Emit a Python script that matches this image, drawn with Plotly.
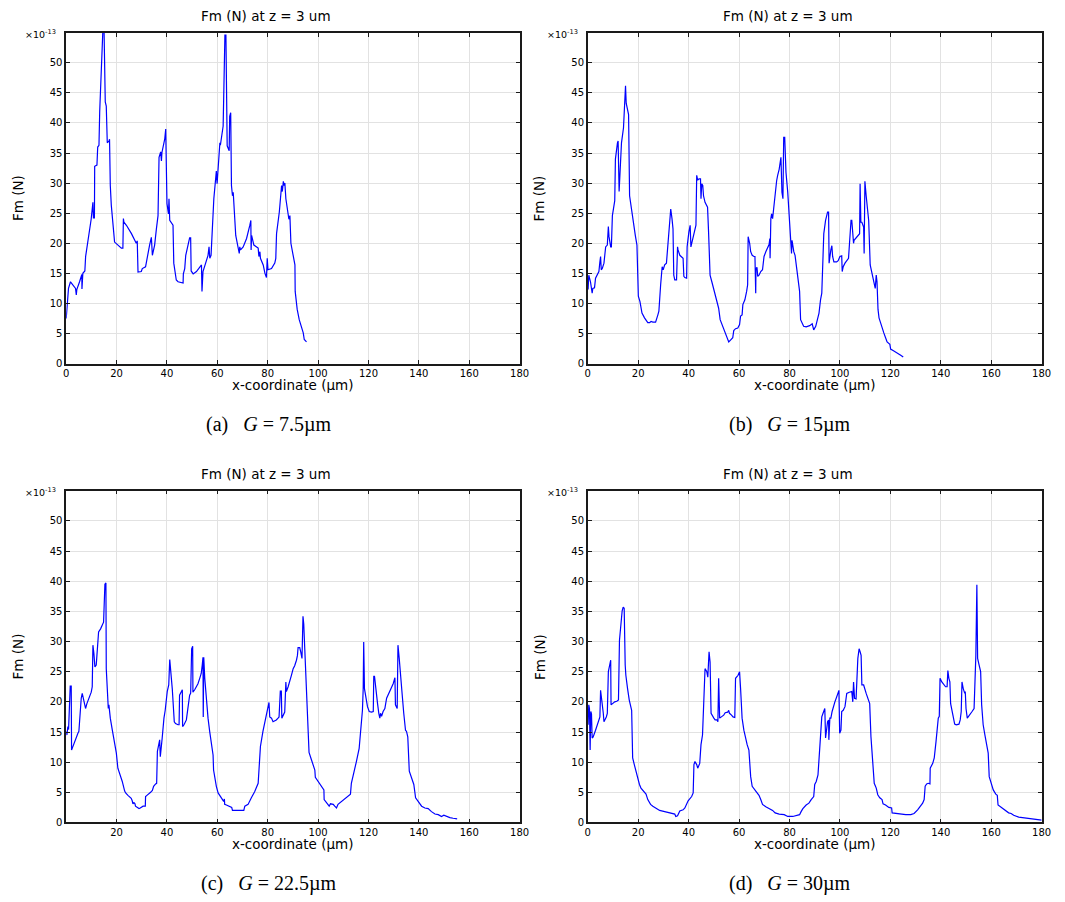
import plotly.graph_objects as go

# Fm values are given in units of 1e-13 N (axis shows "x10^-13")
x_a = [0.0, 0.9, 1.7, 3.7, 4.0, 4.2, 5.3, 6.2, 6.25, 6.6, 7.4, 7.7, 9.9, 10.6, 10.8, 11.2, 11.3, 12.2,
       12.5, 13.0, 13.3, 14.6, 15.0, 15.5, 15.9, 16.3, 17.0, 17.2, 17.5, 17.9, 19.2, 20.5, 21.9, 22.5,
       22.7, 22.9, 23.9, 24.9, 25.9, 27.8, 28.2, 28.5, 29.8, 30.2, 31.5, 33.1, 33.8, 34.2, 35.1, 35.8,
       36.45, 36.85, 37.5, 37.8, 38.0, 39.1, 39.5, 39.8, 40.0, 40.6, 40.8, 41.1, 41.75, 42.4, 42.7,
       43.7, 44.4, 46.4, 46.5, 47.05, 47.45, 49.0, 49.4, 49.6, 50.4, 51.7, 53.7, 53.9, 54.3, 55.1,
       55.7, 56.3, 56.7, 57.0, 57.5, 58.05, 58.6, 59.6, 59.9, 61.0, 61.2, 62.3, 63.0, 63.4, 63.6,
       63.9, 64.7, 64.9, 65.3, 65.6, 66.0, 66.3, 67.3, 68.3, 68.7, 68.9, 69.2, 70.25, 71.6, 72.9,
       73.3, 73.4, 73.6, 74.5, 76.2, 76.5, 76.9, 77.1, 78.2, 78.9, 79.5, 79.8, 80.1, 81.5, 82.8,
       83.2, 83.5, 84.6, 85.1, 85.5, 85.8, 86.2, 86.55, 86.8, 87.2, 88.1, 88.4, 88.8, 89.2, 90.8,
       90.9, 91.7, 92.5, 94.1, 94.5, 95.4]
fm_a = [7.5, 12.5, 13.6, 12.5, 11.4, 12.3, 13.6, 14.8, 12.4, 15.0, 15.4, 17.8, 24.0, 26.8, 24.2, 24.2,
        32.8, 33.0, 36.0, 36.3, 42.0, 56.0, 56.0, 43.5, 42.8, 36.7, 37.0, 37.3, 29.6, 26.3, 20.2,
        19.7, 19.2, 19.2, 24.1, 23.5, 23.0, 22.4, 21.6, 20.0, 20.4, 15.2, 15.3, 15.8, 16.1, 19.7,
        21.0, 18.0, 19.7, 22.4, 24.6, 34.3, 35.2, 33.7, 35.1, 37.3, 39.0, 31.5, 26.6, 24.9, 27.4,
        23.8, 23.3, 23.0, 16.7, 13.9, 13.6, 13.4, 14.9, 15.8, 18.0, 20.9, 20.9, 15.4, 14.9, 15.3,
        16.4, 12.0, 15.3, 16.4, 16.9, 18.0, 19.4, 17.5, 18.0, 21.9, 27.4, 32.0, 29.9, 36.7, 36.3,
        39.5, 54.6, 54.6, 37.8, 36.2, 35.4, 41.1, 41.7, 29.6, 27.9, 28.5, 21.3, 19.4, 18.3, 19.4,
        18.9, 19.4, 20.8, 23.0, 23.8, 18.9, 21.3, 19.7, 19.2, 17.8, 18.6, 17.5, 16.4, 15.0, 14.3,
        17.5, 15.6, 15.8, 16.7, 17.5, 21.6, 25.2, 28.2, 29.6, 28.6, 30.3, 29.6, 30.0, 27.4, 24.6,
        24.0, 24.6, 20.0, 16.4, 12.0, 9.0, 7.3, 5.1, 4.0, 3.6]

x_b = [0.13, 0.4, 1.07, 1.74, 2.0, 2.67, 3.08, 3.74, 4.41, 4.81, 5.08, 5.35, 5.75, 6.42, 7.09, 7.75,
       8.16, 8.42, 8.82, 9.09, 9.36, 9.76, 10.7, 10.96, 11.77, 12.03, 12.43, 12.7, 13.1, 13.37, 14.17,
       14.7, 14.97, 15.24, 15.78, 16.18, 16.58, 17.1, 17.8, 18.45, 18.85, 19.5, 20.05, 20.7, 21.5,
       22.5, 23.8, 24.5, 25.1, 25.8, 26.9, 27.8, 28.2, 28.9, 29.5, 29.9, 30.5, 31.2, 31.4, 31.8,
       32.5, 32.9, 33.4, 33.8, 34.1, 34.5, 35.2, 35.6, 35.8, 36.5, 37.2, 37.8, 38.1, 38.5, 39.2,
       39.4, 40.1, 40.6, 40.9, 41.6, 42.5, 42.9, 43.2, 43.6, 44.1, 44.7, 44.9, 45.2, 45.6, 45.9,
       46.5, 47.5, 47.9, 48.3, 48.5, 49.2, 49.9, 51.2, 51.9, 52.5, 53.2, 54.5, 55.9, 56.6, 57.5,
       57.9, 58.6, 59.5, 60.2, 60.6, 61.2, 61.5, 62.3, 63.0, 63.4, 63.6, 64.2, 64.6, 65.2, 65.9,
       66.3, 66.6, 66.7, 67.1, 67.4, 67.9, 68.6, 69.3, 69.9, 70.6, 71.3, 71.9, 72.2, 72.3, 72.6,
       72.9, 73.3, 73.9, 74.3, 74.9, 75.3, 75.9, 76.6, 77.0, 77.4, 77.7, 78.1, 78.6, 79.3, 80.0,
       80.4, 80.8, 81.0, 81.3, 81.7, 82.2, 82.6, 83.3, 84.0, 84.4, 85.0, 85.6, 86.6, 88.0, 89.0,
       89.6, 90.4, 91.0, 91.7, 92.3, 92.8, 93.6, 94.3, 95.1, 95.5, 95.7, 96.0, 96.4, 96.8, 97.1,
       97.6, 98.7, 99.3, 100.0, 100.7, 100.9, 101.3, 102.0, 103.4, 104.0, 104.4, 104.7, 105.0,
       105.4, 105.6, 106.7, 107.8, 108.0, 108.3, 108.7, 109.4, 109.6, 109.9, 110.4, 111.4, 112.0,
       112.7, 113.4, 114.0, 114.4, 114.7, 115.1, 115.5, 116.1, 116.7, 117.4, 118.1, 118.7, 119.8,
       120.1, 121.4, 122.7, 124.1, 125.1]
fm_b = [12.3, 14.7, 13.6, 11.7, 12.5, 12.6, 14.2, 14.7, 15.3, 16.9, 17.8, 15.6, 15.8, 16.7, 19.4,
        19.7, 22.8, 21.1, 20.0, 19.4, 19.4, 24.6, 27.1, 34.0, 36.7, 37.0, 28.6, 32.0, 34.3, 36.7,
        39.2, 46.2, 46.2, 43.3, 42.0, 41.4, 27.9, 26.3, 24.1, 21.9, 21.3, 19.7, 11.2, 10.3, 8.4,
        7.6, 6.8, 6.8, 7.0, 6.9, 6.9, 8.1, 8.7, 13.1, 16.1, 15.6, 16.4, 16.7, 17.8, 19.4, 22.4,
        25.7, 24.1, 22.4, 14.7, 13.9, 13.9, 19.4, 18.9, 18.0, 17.8, 17.5, 14.5, 14.3, 14.2, 19.4,
        21.9, 23.0, 19.4, 20.5, 22.2, 23.0, 31.3, 30.5, 30.7, 30.7, 27.4, 29.9, 29.6, 27.9, 26.8,
        26.0, 21.9, 18.6, 14.7, 13.6, 12.5, 10.6, 9.2, 7.3, 6.5, 5.1, 3.6, 3.9, 4.3, 5.5, 5.8,
        5.9, 6.5, 7.9, 8.1, 9.8, 10.6, 12.0, 13.1, 21.1, 20.0, 18.6, 18.0, 17.8, 17.8, 11.7, 15.8,
        16.0, 14.5, 14.7, 15.3, 15.6, 17.8, 18.6, 19.4, 19.8, 20.8, 17.5, 24.1, 24.9, 24.1, 26.8,
        28.5, 30.4, 31.3, 32.3, 34.3, 28.5, 27.4, 37.6, 37.6, 31.8, 28.5, 23.5, 20.0, 18.3, 20.5,
        19.4, 18.6, 18.0, 16.7, 14.5, 12.0, 7.3, 6.8, 6.2, 6.1, 6.3, 6.6, 5.6, 6.2, 7.3, 8.4,
        10.6, 11.7, 21.6, 23.8, 25.2, 25.2, 16.7, 17.8, 18.9, 19.6, 17.8, 16.9, 16.9, 17.1, 17.8,
        17.9, 15.3, 16.1, 16.7, 17.5, 21.3, 23.8, 23.8, 21.9, 20.0, 20.5, 21.1, 21.6, 29.9, 23.5,
        23.5, 22.7, 18.3, 30.3, 27.9, 23.8, 16.4, 15.0, 13.9, 12.5, 14.7, 13.6, 9.0, 7.6, 6.8,
        5.9, 5.1, 4.3, 3.6, 3.2, 2.4, 2.1, 1.8, 1.4, 1.1]

x_c = [0.0, 0.26, 0.66, 0.93, 1.59, 1.99, 2.12, 2.65, 3.71, 4.64, 5.03, 5.56, 5.96, 6.36, 6.75, 7.28,
       7.68, 8.21, 9.0, 9.93, 10.33, 10.6, 10.99, 11.39, 11.92, 12.32, 12.85, 13.64, 14.3, 14.83,
       15.36, 15.76, 15.9, 16.3, 16.7, 16.95, 17.5, 18.3, 19.2, 19.9, 20.5, 21.5, 22.25, 23.2, 23.6,
       24.5, 25.8, 26.2, 26.5, 26.9, 27.3, 27.5, 28.1, 28.9, 29.4, 30.5, 31.4, 31.5, 32.05, 32.85,
       33.5, 34.2, 34.7, 35.5, 35.9, 36.2, 36.7, 37.1, 37.35, 37.6, 38.1, 38.8, 39.3, 40.1, 40.7,
       41.1, 41.5, 42.1, 42.9, 43.4, 44.4, 44.8, 45.0, 45.7, 46.1, 46.2, 46.75, 47.7, 48.3, 49.0,
       49.4, 49.8, 50.2, 50.3, 51.0, 51.65, 52.3, 53.0, 53.6, 54.0, 54.3, 54.4, 54.6, 55.0, 55.6,
       56.3, 56.95, 57.6, 58.3, 58.5, 59.2, 59.6, 60.3, 60.9, 61.6, 62.5, 62.8, 62.9, 63.6, 64.9,
       65.7, 66.0, 67.5, 68.9, 70.5, 70.9, 72.2, 73.5, 74.8, 76.2, 76.6, 77.1, 78.1, 79.1, 80.1,
       80.5, 80.8, 81.5, 82.1, 82.8, 83.4, 84.1, 84.5, 85.0, 85.4, 85.6, 86.1, 86.75, 87.2, 87.4,
       88.1, 88.7, 89.4, 90.1, 90.7, 91.4, 91.8, 92.05, 92.7, 93.1, 93.6, 94.0, 94.3, 94.7, 95.4,
       96.0, 96.4, 97.35, 98.7, 98.9, 100.0, 101.3, 102.3, 102.4, 102.9, 104.0, 104.4, 104.9,
       106.0, 106.6, 107.3, 107.9, 109.3, 110.6, 111.9, 112.85, 113.2, 113.9, 115.2, 116.3, 117.2,
       117.6, 117.9, 118.1, 118.4, 118.9, 119.6, 120.3, 121.2, 121.9, 122.1, 122.4, 122.9, 123.6,
       124.1, 124.5, 124.8, 125.2, 125.8, 126.5, 127.2, 127.8, 128.5, 129.1, 129.8, 130.5, 130.7,
       131.4, 131.7, 132.2, 132.7, 133.4, 134.0, 134.7, 135.1, 135.6, 136.2, 137.1, 138.0, 138.7,
       139.7, 141.1, 142.4, 143.7, 145.0, 146.4, 147.7, 149.0, 149.9, 151.0, 152.3, 153.6, 155.2]
fm_c = [15.1, 14.5, 15.9, 15.4, 22.6, 22.6, 12.0, 12.6, 14.0, 14.8, 15.1, 19.7, 20.6, 21.4, 20.8,
        19.7, 18.9, 19.7, 20.6, 21.6, 22.5, 29.4, 28.0, 25.8, 26.1, 29.4, 31.6, 32.1, 32.7, 33.2,
        39.5, 39.7, 25.5, 21.9, 18.9, 19.5, 17.3, 15.3, 13.4, 11.5, 9.0, 7.9, 6.8, 5.2, 4.9, 4.5,
        4.0, 3.6, 3.1, 3.3, 3.1, 2.7, 2.5, 2.3, 2.4, 2.7, 2.7, 4.3, 4.5, 4.7, 5.0, 5.3, 6.0, 6.4,
        6.5, 11.8, 12.9, 13.7, 10.9, 12.6, 14.0, 17.3, 18.6, 21.7, 22.8, 27.0, 25.5, 22.2, 16.7,
        16.4, 16.2, 16.2, 21.1, 21.6, 22.0, 15.9, 16.2, 17.0, 18.9, 21.1, 21.4, 28.8, 29.2, 21.6,
        22.0, 22.4, 23.0, 23.9, 24.7, 26.1, 27.4, 17.5, 27.4, 23.9, 20.0, 17.3, 15.1, 13.1, 11.2,
        8.7, 6.8, 6.0, 4.9, 4.5, 4.1, 3.5, 3.9, 3.0, 2.9, 2.7, 2.5, 2.0, 2.0, 2.0, 2.0, 2.7, 3.0,
        4.1, 5.1, 6.5, 9.0, 12.6, 15.1, 17.3, 18.9, 19.9, 17.5, 17.3, 16.7, 16.8, 17.0, 17.3, 17.5,
        21.8, 21.8, 17.3, 17.8, 18.3, 23.3, 21.7, 22.5, 23.6, 24.4, 25.5, 26.0, 26.9, 27.7, 29.0,
        29.0, 28.3, 27.2, 34.2, 32.9, 28.8, 21.1, 15.6, 11.6, 10.4, 8.7, 7.5, 6.8, 6.0, 5.4, 3.8,
        3.5, 3.0, 2.7, 3.1, 3.0, 2.7, 2.4, 3.0, 3.5, 4.0, 4.3, 4.7, 6.5, 7.6, 10.1, 12.3, 16.2,
        18.6, 22.2, 29.9, 22.2, 20.6, 19.2, 18.4, 18.3, 18.4, 24.3, 24.2, 21.9, 19.7, 18.1, 17.3,
        18.1, 17.6, 18.4, 18.9, 20.6, 21.1, 21.7, 22.2, 23.0, 24.0, 19.5, 18.9, 29.4, 27.2, 23.9,
        21.1, 18.1, 15.3, 15.1, 14.2, 8.5, 7.4, 6.3, 4.1, 3.5, 2.7, 2.4, 2.3, 1.8, 1.4, 1.3, 1.0,
        1.2, 1.0, 0.8, 0.7, 0.6]

x_d = [0.13, 0.4, 0.67, 0.94, 1.2, 1.47, 1.74, 2.14, 3.08, 4.0, 4.81, 5.08, 5.35, 6.15, 6.42, 6.82,
       7.35, 7.75, 8.16, 8.69, 9.09, 9.23, 9.76, 10.7, 11.5, 12.17, 12.57, 13.1, 13.64, 14.04, 14.44,
       14.84, 15.1, 15.78, 16.45, 17.4, 17.8, 18.45, 19.1, 19.8, 20.5, 21.1, 22.5, 23.1, 23.8, 24.9,
       25.8, 27.1, 28.5, 30.5, 32.5, 34.5, 34.9, 35.6, 36.5, 37.8, 38.5, 39.2, 39.8, 41.2, 41.8,
       42.1, 42.5, 43.2, 43.6, 44.4, 44.9, 45.5, 46.0, 46.5, 47.2, 47.6, 48.1, 48.5, 48.9, 49.5,
       50.0, 50.5, 51.2, 51.6, 51.9, 52.3, 52.9, 53.9, 54.5, 55.5, 55.9, 56.2, 57.0, 57.6, 58.3,
       58.6, 59.6, 60.2, 60.6, 61.2, 61.9, 62.6, 63.2, 63.9, 64.6, 65.2, 66.6, 67.9, 68.6, 69.3,
       70.6, 71.9, 73.3, 74.3, 75.9, 77.9, 79.3, 81.3, 82.6, 84.0, 84.6, 85.3, 86.6, 87.7, 88.6,
       89.6, 90.0, 90.6, 91.3, 91.7, 92.3, 92.8, 93.3, 94.0, 94.3, 94.7, 95.1, 95.5, 95.6, 96.0,
       96.4, 96.9, 97.3, 98.0, 98.7, 99.6, 99.9, 100.4, 100.7, 101.3, 102.0, 102.7, 103.7, 104.7,
       105.1, 105.4, 105.8, 106.4, 107.1, 107.6, 108.0, 108.4, 108.7, 109.4, 110.4, 111.4, 111.8,
       112.3, 113.0, 113.6, 114.4, 115.0, 115.8, 116.7, 117.1, 118.1, 119.4, 120.5, 120.7, 122.1,
       124.1, 126.1, 128.1, 129.4, 130.8, 131.8, 132.8, 133.4, 133.8, 134.4, 135.0, 135.7, 135.8,
       136.8, 137.4, 138.1, 138.5, 139.0, 139.4, 139.7, 140.4, 141.2, 141.9, 142.5, 142.8, 143.2,
       143.6, 143.9, 144.4, 144.8, 145.5, 146.1, 147.2, 147.7, 148.1, 148.4, 148.9, 149.5, 149.7,
       150.0, 150.5, 151.5, 152.4, 153.2, 153.9, 154.3, 154.6, 155.2, 155.8, 156.2, 156.8, 157.5,
       158.2, 158.8, 159.2, 159.9, 160.8, 161.8, 162.4, 162.7, 164.2, 165.5, 166.9, 167.9, 168.9,
       170.9, 173.5, 176.2, 180.0]
fm_d = [16.2, 19.5, 18.9, 12.0, 18.4, 18.0, 14.0, 14.2, 15.3, 16.7, 17.5, 21.9, 21.1, 18.1, 16.7,
        17.0, 17.5, 18.1, 25.0, 26.1, 26.9, 19.5, 19.7, 20.0, 20.1, 20.3, 30.2, 32.7, 35.1, 35.7,
        35.5, 26.1, 24.4, 22.2, 20.3, 18.6, 10.7, 9.6, 8.5, 7.1, 6.3, 5.7, 5.1, 4.7, 3.8, 3.0, 2.7,
        2.3, 2.0, 1.8, 1.6, 1.4, 1.0, 1.1, 1.9, 2.1, 2.4, 3.2, 3.6, 4.3, 4.9, 9.6, 10.1, 9.6, 9.0,
        9.8, 12.9, 14.5, 20.0, 25.5, 25.0, 24.1, 28.3, 26.6, 18.1, 17.5, 17.3, 17.0, 17.0, 16.7,
        23.9, 17.3, 17.5, 17.8, 18.2, 18.3, 18.6, 18.1, 17.8, 17.5, 17.4, 23.9, 24.4, 25.0, 22.2,
        17.3, 15.3, 13.7, 12.9, 12.0, 7.6, 6.0, 5.2, 4.5, 3.8, 3.0, 2.6, 2.3, 2.0, 1.6, 1.4, 1.3,
        1.0, 1.0, 1.2, 1.3, 1.8, 2.3, 2.9, 3.2, 3.8, 4.3, 6.3, 6.8, 7.9, 10.7, 14.0, 17.5, 18.1,
        18.9, 14.0, 15.6, 16.7, 17.0, 13.7, 17.3, 17.3, 18.4, 19.2, 20.0, 20.8, 21.9, 14.8, 15.3,
        18.4, 18.6, 19.2, 21.4, 21.6, 21.7, 20.0, 23.3, 20.6, 20.5, 27.2, 28.8, 28.3, 27.7, 22.8,
        22.8, 21.4, 20.3, 19.7, 14.2, 10.1, 6.5, 5.7, 4.6, 4.1, 3.8, 3.1, 2.9, 2.5, 2.4, 1.6, 1.5,
        1.4, 1.3, 1.3, 1.5, 2.1, 2.7, 3.2, 3.8, 6.0, 6.4, 6.5, 6.4, 9.0, 9.8, 10.7, 13.4, 15.9,
        17.3, 17.6, 23.9, 23.3, 22.8, 22.5, 22.5, 25.2, 23.9, 23.3, 19.7, 18.9, 17.8, 16.3, 16.2,
        16.3, 17.0, 18.4, 23.3, 22.2, 21.4, 21.7, 18.9, 17.3, 17.8, 18.4, 18.9, 27.7, 39.4, 27.2,
        26.1, 25.0, 19.5, 16.2, 14.5, 12.9, 11.5, 7.6, 6.5, 5.4, 4.7, 4.5, 2.9, 2.4, 2.0, 1.6, 1.5,
        1.2, 0.9, 0.8, 0.6, 0.4]

x_ticks_full = [0, 20, 40, 60, 80, 100, 120, 140, 160, 180]
x_ticks_c = [20, 40, 60, 80, 100, 120, 140, 160, 180]
y_ticks = [0, 5, 10, 15, 20, 25, 30, 35, 40, 45, 50]
captions = ["(a)&nbsp;&nbsp;&nbsp;<i>G</i> = 7.5µm", "(b)&nbsp;&nbsp;&nbsp;<i>G</i> = 15µm",
            "(c)&nbsp;&nbsp;&nbsp;<i>G</i> = 22.5µm", "(d)&nbsp;&nbsp;&nbsp;<i>G</i> = 30µm"]
panel_title = "Fm (N) at z = 3 um"

W, H = 1065, 902
FONT = "DejaVu Sans"


def px(x):
    return x / W


def py(y):
    return 1 - y / H


# screen boxes of the four plot areas: left, right, top, bottom
boxes = [(64, 523, 33, 366), (592, 1051.5, 33, 366), (64, 523, 494, 828), (592, 1051.5, 494, 828)]
series = [(x_a, fm_a, x_ticks_full), (x_b, fm_b, x_ticks_full), (x_c, fm_c, x_ticks_c), (x_d, fm_d, x_ticks_full)]

fig = go.Figure()
annotations = []
layout = {}


def label(text, x, y, size, family=FONT, **kw):
    d = dict(text=text, x=px(x), y=py(y), xref="paper", yref="paper", showarrow=False,
             xanchor="center", yanchor="middle", font=dict(family=family, size=size, color="black"))
    d.update(kw)
    return d


for i, ((l, r, t, b), (xs, ys, xt)) in enumerate(zip(boxes, series)):
    n = "" if i == 0 else str(i + 1)
    fig.add_trace(go.Scatter(x=xs, y=ys, mode="lines", line=dict(color="#0000ff", width=1.2),
                             xaxis="x" + n, yaxis="y" + n, hoverinfo="skip", showlegend=False))
    common = dict(showline=True, linecolor="#1a1a1a", linewidth=1.5, mirror="ticks", ticks="inside",
                  ticklen=4, tickcolor="#1a1a1a", showgrid=True, gridcolor="#e2e2e2", gridwidth=1,
                  zeroline=False, tickfont=dict(family=FONT, size=10, color="black"))
    layout["xaxis" + n] = dict(domain=[px(l), px(r)], anchor="y" + n, range=[0, 180], tickvals=xt, **common)
    layout["yaxis" + n] = dict(domain=[py(b), py(t)], anchor="x" + n, range=[0, 55], tickvals=y_ticks, **common)

    cx = (l + r) / 2
    annotations.append(label(panel_title, cx - 27.5, t - 17, 13.5))
    annotations.append(label("x-coordinate (µm)", cx, b + 22, 13.5))
    annotations.append(label("Fm (N)", l - 49, (t + b) / 2, 13.5, textangle=-90))
    annotations.append(label("×10<sup>-13</sup>", l - 8, t + 1, 9.5, xanchor="right"))
    annotations.append(label(captions[i], cx - 25, b + 61, 20, family="Liberation Serif"))

fig.update_layout(width=W, height=H, margin=dict(l=0, r=0, t=0, b=0), plot_bgcolor="white",
                  paper_bgcolor="white", annotations=annotations, **layout)

# drop the default body margin so the figure sits exactly in the window
fig.write_html("out.html", config={"displayModeBar": False},
               post_script="document.body.style.margin='0';document.body.style.overflow='hidden';")
